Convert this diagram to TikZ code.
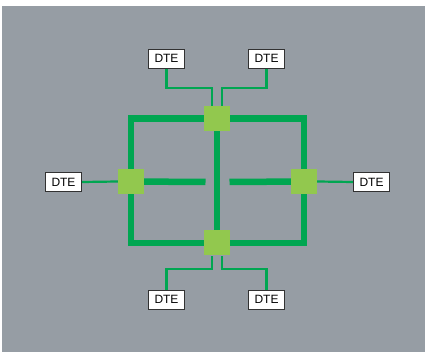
\documentclass[tikz,border=0pt]{standalone}
\usepackage{fontspec}
\setmainfont{Liberation Sans}
\usetikzlibrary{positioning, backgrounds}
\definecolor{panelgray}{RGB}{150, 157, 164}
\definecolor{ringgreen}{RGB}{0, 166, 81}
\definecolor{switchgreen}{RGB}{146, 200, 78}
\definecolor{boxline}{RGB}{50, 50, 50}

\begin{document}
\begin{tikzpicture}[x=1pt, y=-1pt,
    dte/.style={draw=boxline, line width=0.8pt, fill=white, minimum width=36pt,
                minimum height=19pt, inner sep=0pt, font=\fontsize{12}{12}\selectfont},
    switch/.style={fill=switchgreen, minimum width=26pt, minimum height=25pt, inner sep=0pt},
    trunk/.style={draw=ringgreen, line width=6.5pt},
    link/.style={draw=ringgreen, line width=2.2pt}
]
    \useasboundingbox (0,0) rectangle (425,352);

    % switches
    \node[switch] (sw-top) at (217,118.5) {};
    \node[switch] (sw-left) at (131,181.5) {};
    \node[switch] (sw-right) at (304,181.5) {};
    \node[switch] (sw-bot) at (217,243) {};

    % terminals
    \node[dte] (dte-tl) at (166.5,58.5) {DTE};
    \node[dte] (dte-tr) at (266.5,58.5) {DTE};
    \node[dte] (dte-l) at (63.5,182) {DTE};
    \node[dte] (dte-r) at (371.5,182) {DTE};
    \node[dte] (dte-bl) at (166.5,299.5) {DTE};
    \node[dte] (dte-br) at (266.5,299.5) {DTE};

    \coordinate (stub-l) at (205.5,182);
    \coordinate (stub-r) at (229.5,182);
    \coordinate (bend-tl) at (212,88);
    \coordinate (bend-tr) at (222,88);
    \coordinate (bend-bl) at (212,269);
    \coordinate (bend-br) at (222,269);

    \begin{scope}[on background layer]
    \fill[panelgray] (2,6) rectangle (425,352);

    % ring and cross links
    \draw[trunk] (sw-top.center) -| (sw-right.center) |- (sw-bot.center)
        -| (sw-left.center) |- (sw-top.center) -- cycle;
    \draw[trunk, line width=6pt] (sw-top.center) -- (sw-bot.center);
    \draw[trunk] (sw-left.center) -- (stub-l);
    \draw[trunk] (sw-right.center) -- (stub-r);

    % terminal links
    \draw[link] (dte-tl.south) |- (bend-tl) -- (bend-tl |- sw-top.north);
    \draw[link] (dte-tr.south) |- (bend-tr) -- (bend-tr |- sw-top.north);
    \draw[link] (dte-bl.north) |- (bend-bl) -- (bend-bl |- sw-bot.south);
    \draw[link] (dte-br.north) |- (bend-br) -- (bend-br |- sw-bot.south);
    \draw[link] (dte-l.east) -- (sw-left.west);
    \draw[link] (dte-r.west) -- (sw-right.east);
    \end{scope}
\end{tikzpicture}
\end{document}
